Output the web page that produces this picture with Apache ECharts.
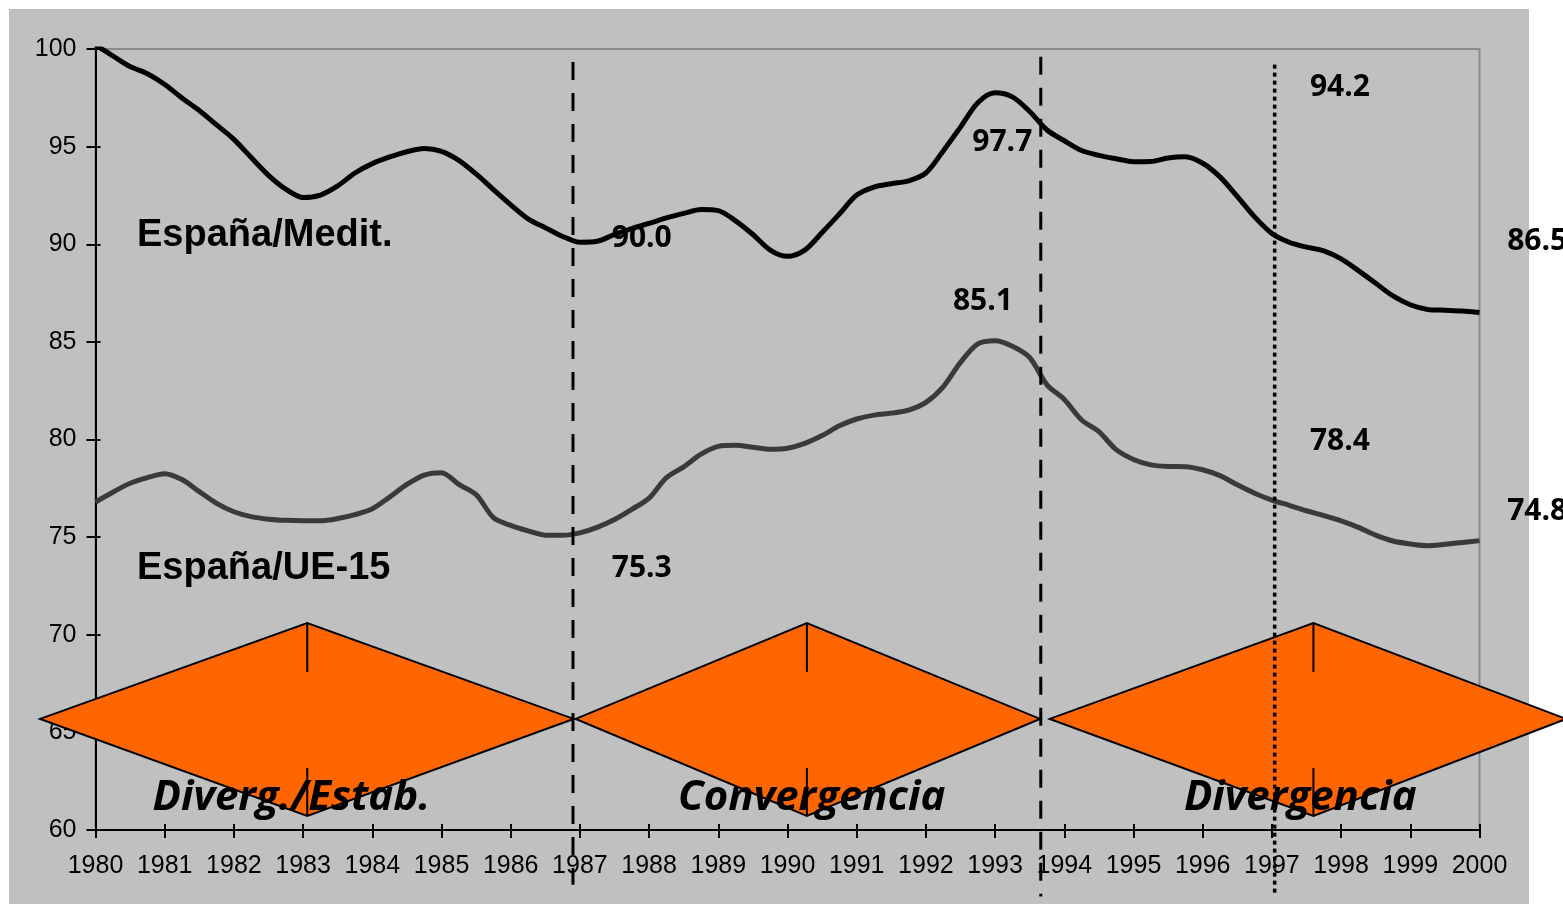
<!DOCTYPE html>
<html lang="es">
<head>
  <meta charset="UTF-8">
  <title>España/Medit. y España/UE-15</title>
  <style>
    * { margin: 0; padding: 0; }
    body { background: #ffffff; }
    #chart { width: 1563px; height: 904px; }
  </style>
</head>
<body>
  <div id="chart"></div>

  <script src="https://cdn.jsdelivr.net/npm/echarts@6/dist/echarts.min.js"></script>
  <script type="text/javascript">
  // trimestral, 1980 T1 .. 2000 T1 (81 puntos)
  var mediterraneo = [
    100.2, 99.65, 99.1, 98.73, 98.18, 97.49, 96.85, 96.11, 95.37, 94.44,
    93.53, 92.82, 92.39, 92.52, 92.99, 93.65, 94.13, 94.47, 94.74, 94.9,
    94.76, 94.3, 93.6, 92.8, 92.02, 91.3, 90.85, 90.4, 90.1, 90.15,
    90.5, 90.8, 91.07, 91.35, 91.58, 91.78, 91.72, 91.2, 90.5, 89.7,
    89.38, 89.7, 90.6, 91.55, 92.52, 92.93, 93.1, 93.25, 93.65, 94.78,
    96.0, 97.25, 97.76, 97.55, 96.8, 95.85, 95.3, 94.8, 94.55, 94.38,
    94.23, 94.24, 94.42, 94.48, 94.15, 93.45, 92.45, 91.4, 90.55, 90.1,
    89.85, 89.66, 89.25, 88.65, 88.0, 87.35, 86.9, 86.66, 86.62, 86.58,
    86.5
  ];
  var ue15 = [
    76.8, 77.3, 77.76, 78.05, 78.25, 77.95, 77.33, 76.73, 76.3, 76.05,
    75.92, 75.86, 75.84, 75.84, 75.95, 76.15, 76.45, 77.05, 77.7, 78.18,
    78.3, 77.7, 77.18, 76.0, 75.6, 75.32, 75.1, 75.1, 75.22, 75.5,
    75.9, 76.42, 77.0, 78.05, 78.6, 79.25, 79.65, 79.7, 79.6, 79.5,
    79.55, 79.8, 80.2, 80.7, 81.05, 81.25, 81.35, 81.5, 81.9, 82.7,
    83.95, 84.9, 85.06, 84.78, 84.2, 82.8, 82.05, 81.0, 80.4, 79.48,
    78.98, 78.7, 78.62, 78.61, 78.45, 78.15, 77.68, 77.25, 76.9, 76.63,
    76.35, 76.1, 75.83, 75.5, 75.1, 74.8, 74.65, 74.56, 74.63, 74.72,
    74.82
  ];

  // cortes de fase (líneas verticales)
  var corteDiscontinuo = [1986.9, 1993.66];
  var corteDiscontinuoY = [[99.33, 57.2], [99.6, 56.6]];
  var cortePunteadoX = 1997.04;
  var cortePunteadoY = [99.2, 56.6];

  // rombos de fase: izquierda, centro, derecha
  var faseIzq = [1979.2, 1986.94, 1993.79];
  var faseCentro = [1983.06, 1990.28, 1997.6];
  var faseDer = [1986.91, 1993.65, 2001.25];
  var romboArriba = 70.6, romboMedio = 65.69, romboAbajo = 60.72;
  var marcaArriba = 68.1, marcaAbajo = 63.18;

  var faseNombres = ['Diverg./Estab.', 'Convergencia', 'Divergencia'];
  var faseTextoX = [1982.83, 1990.35, 1997.41];
  var faseTextoY = 61.62;

  var serieNombres = [[1980.6, 90.47, 'España/Medit.'], [1980.6, 73.37, 'España/UE-15']];
  var valoresTexto = [
    [1987.46, 90.32, '90.0'], [1987.46, 73.37, '75.3'],
    [1992.67, 95.19, '97.7'], [1992.39, 87.09, '85.1'],
    [1997.55, 98.05, '94.2'], [1997.55, 79.92, '78.4'],
    [2000.4, 90.12, '86.5'], [2000.4, 76.34, '74.8']
  ];

  function main () {
    var chart = echarts.init(document.getElementById('chart'));

    var trimestres = mediterraneo.map(function (_, i) { return 1980 + i / 4; });
    var dataMedit = trimestres.map(function (x, i) { return [x, mediterraneo[i]]; });
    var dataUe = trimestres.map(function (x, i) { return [x, ue15[i]]; });

    var rombos = faseIzq.map(function (l, i) {
      return [l, faseCentro[i], faseDer[i], romboArriba, romboMedio, romboAbajo, marcaArriba, marcaAbajo];
    });

    var ejeFuente = { fontFamily: 'Liberation Sans, Arial, sans-serif', fontSize: 25, color: '#000' };
    var sinFormato = function (v) { return String(v); };

    function etiquetas (datos, z, label) {
      return {
        type: 'scatter', z: z, clip: false, symbolSize: 0,
        itemStyle: { color: '#000' },
        silent: true,
        data: datos,
        label: Object.assign({
          show: true, color: '#000', opacity: 1, textBorderWidth: 0,
          formatter: function (p) { return p.value[2]; }
        }, label)
      };
    }

    var option = {
      backgroundColor: '#ffffff',
      animation: false,
      graphic: [{
        type: 'rect', z: -10, silent: true,
        shape: { x: 9, y: 9, width: 1520, height: 900 },
        style: { fill: '#c0c0c0' }
      }],
      grid: {
        left: 95.5, right: 83.5, top: 49, bottom: 74,
        show: true, borderColor: '#8a8a8a', borderWidth: 2, backgroundColor: 'transparent'
      },
      xAxis: [{
        type: 'value', min: 1980, max: 2000, interval: 1,
        splitLine: { show: false },
        axisLine: { lineStyle: { color: '#000', width: 2 } },
        axisTick: { length: 8, lineStyle: { color: '#000', width: 2 } },
        axisLabel: Object.assign({ margin: 24, formatter: sinFormato }, ejeFuente)
      }, {
        type: 'value', min: 1980, max: 2000, interval: 1, position: 'bottom',
        splitLine: { show: false }, axisLine: { show: false }, axisLabel: { show: false },
        axisTick: { inside: true, length: 6, lineStyle: { color: '#000', width: 2 } }
      }],
      yAxis: [{
        type: 'value', min: 60, max: 100, interval: 5,
        splitLine: { show: false },
        axisLine: { show: true, lineStyle: { color: '#000', width: 2 } },
        axisTick: { show: true, length: 9, lineStyle: { color: '#000', width: 2 } },
        axisLabel: Object.assign({ margin: 19, formatter: sinFormato }, ejeFuente)
      }, {
        type: 'value', min: 60, max: 100, interval: 5, position: 'left',
        splitLine: { show: false }, axisLine: { show: false }, axisLabel: { show: false },
        axisTick: { show: true, inside: true, length: 5, lineStyle: { color: '#000', width: 2 } }
      }],
      series: [
        {
          name: 'España/UE-15', type: 'line', data: dataUe, smooth: 0.3,
          showSymbol: false, z: 3,
          lineStyle: { color: '#3a3a3a', width: 5 }
        },
        {
          name: 'España/Medit.', type: 'line', data: dataMedit, smooth: 0.3,
          showSymbol: false, z: 4,
          lineStyle: { color: '#000', width: 5 }
        },
        {
          type: 'custom', z: 5, clip: false,
          encode: { x: [0, 1, 2], y: [3, 4, 5] },
          data: rombos,
          renderItem: function (params, api) {
            var l = api.coord([api.value(0), api.value(4)]);
            var t = api.coord([api.value(1), api.value(3)]);
            var r = api.coord([api.value(2), api.value(4)]);
            var b = api.coord([api.value(1), api.value(5)]);
            var m1 = api.coord([api.value(1), api.value(6)]);
            var m2 = api.coord([api.value(1), api.value(7)]);
            return {
              type: 'group',
              children: [
                { type: 'polygon', shape: { points: [l, t, r, b] },
                  style: { fill: '#ff6600', stroke: '#000', lineWidth: 2 } },
                { type: 'line', shape: { x1: t[0], y1: t[1], x2: m1[0], y2: m1[1] },
                  style: { stroke: '#000', lineWidth: 2 } },
                { type: 'line', shape: { x1: m2[0], y1: m2[1], x2: b[0], y2: b[1] },
                  style: { stroke: '#000', lineWidth: 2 } }
              ]
            };
          }
        },
        {
          type: 'line', z: 6, clip: false, showSymbol: false,
          data: [[corteDiscontinuo[0], corteDiscontinuoY[0][0]], [corteDiscontinuo[0], corteDiscontinuoY[0][1]]],
          lineStyle: { color: '#000', width: 3, type: [18, 13] }
        },
        {
          type: 'line', z: 6, clip: false, showSymbol: false,
          data: [[corteDiscontinuo[1], corteDiscontinuoY[1][0]], [corteDiscontinuo[1], corteDiscontinuoY[1][1]]],
          lineStyle: { color: '#000', width: 3, type: [18, 13] }
        },
        {
          type: 'line', z: 6, clip: false, showSymbol: false,
          data: [[cortePunteadoX, cortePunteadoY[0]], [cortePunteadoX, cortePunteadoY[1]]],
          lineStyle: { color: '#000', width: 3.5, type: [4, 4] }
        },
        etiquetas(serieNombres, 7, {
          position: 'right', distance: 0,
          fontFamily: 'Liberation Sans, Arial, sans-serif', fontWeight: 'bold', fontSize: 38
        }),
        etiquetas(valoresTexto, 3, {
          position: 'right', distance: 0,
          fontFamily: 'Open Sans, sans-serif', fontWeight: 'bold', fontSize: 30
        }),
        etiquetas(faseNombres.map(function (n, i) { return [faseTextoX[i], faseTextoY, n]; }), 8, {
          position: 'inside',
          fontFamily: 'Open Sans, sans-serif', fontWeight: 'bold', fontStyle: 'italic', fontSize: 42
        })
      ]
    };
    chart.setOption(option);
  }

  window.addEventListener('load', main);
  </script>
</body>
</html>
